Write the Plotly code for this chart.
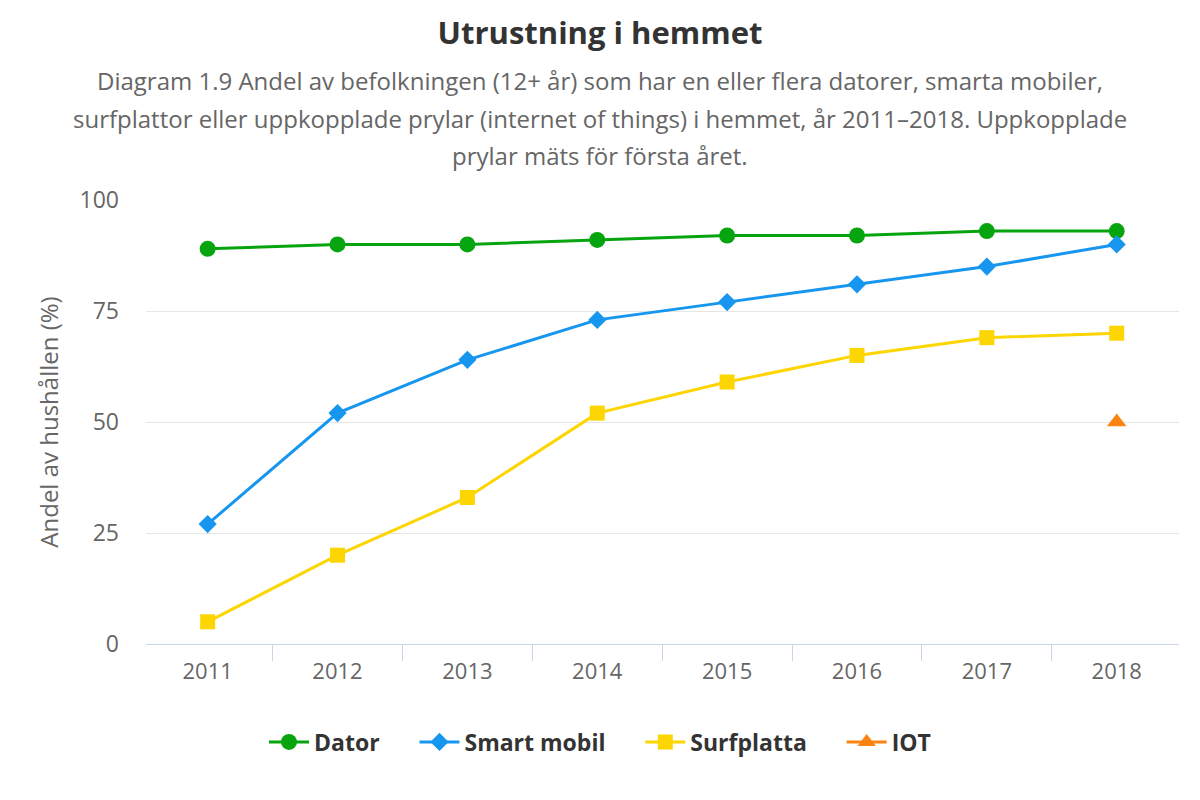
import plotly.graph_objects as go

# Data
years = ["2011", "2012", "2013", "2014", "2015", "2016", "2017", "2018"]
dator = [89, 90, 90, 91, 92, 92, 93, 93]
smart_mobil = [27, 52, 64, 73, 77, 81, 85, 90]
surfplatta = [5, 20, 33, 52, 59, 65, 69, 70]
iot_years = ["2018"]
iot = [50]

title = "Utrustning i hemmet"
subtitle_lines = [
    "Diagram 1.9 Andel av befolkningen (12+ år) som har en eller flera datorer, smarta mobiler,",
    "surfplattor eller uppkopplade prylar (internet of things) i hemmet, år 2011–2018. Uppkopplade",
    "prylar mäts för första året.",
]
y_title = "Andel av hushållen (%)"

# page has an 8px body margin, so the figure is a bit smaller than the window
PAD = 8
W, H = 1200 - 2 * PAD, 800 - 2 * PAD
ML, MR, MT, MB = 146 - PAD, 13, 200 - PAD, 148
plot_w = W - ML - MR
plot_h = H - MT - MB

FONT = "Open Sans"
LEGEND_GAP = "\u00a0" * 5  # extra room between legend entries

fig = go.Figure()

series = [
    ("Dator", years, dator, "#06a50f", "circle", 16),
    ("Smart mobil", years, smart_mobil, "#1796ef", "diamond", 14),
    ("Surfplatta", years, surfplatta, "#fdd500", "square", 15),
    ("IOT", iot_years, iot, "#fb8311", "triangle-up", 17),
]
for i, (name, xs, ys, color, symbol, size) in enumerate(series):
    label = name if i == len(series) - 1 else name + LEGEND_GAP
    fig.add_trace(go.Scatter(
        x=xs, y=ys, name=label, mode="lines+markers",
        line=dict(color=color, width=3),
        marker=dict(color=color, symbol=symbol, size=size, line=dict(width=0)),
        hovertemplate=name + ": %{y}<extra></extra>",
    ))


def py(page_y):
    # page pixel y -> paper coordinate
    return (H - MB - (page_y - PAD)) / plot_h


# Subtitle as separate lines to match the spacing
for i, line in enumerate(subtitle_lines):
    fig.add_annotation(
        text=line, showarrow=False,
        xref="paper", yref="paper",
        x=(600 - PAD - ML) / plot_w,
        y=py(80 + 38 * i),
        xanchor="center", yanchor="middle",
        font=dict(family=FONT, size=24, color="#666666"),
    )

fig.update_layout(
    width=W, height=H,
    margin=dict(l=ML, r=MR, t=MT, b=MB),
    paper_bgcolor="white",
    plot_bgcolor="white",
    font=dict(family=FONT, color="#666666"),
    title=dict(
        text="<b>" + title + "</b>",
        x=0.5, xanchor="center",
        y=1 - (33 - PAD) / H, yanchor="middle",
        font=dict(family=FONT, size=31, color="#333333"),
    ),
    showlegend=True,
    legend=dict(
        orientation="h",
        x=(600 - PAD - ML) / plot_w, xanchor="center",
        y=py(742), yanchor="middle",
        font=dict(family=FONT, size=23, color="#333333", weight="bold"),
        itemwidth=40,
        tracegroupgap=0,
    ),
    xaxis=dict(
        type="category",
        showgrid=False,
        showline=True, linecolor="#ccd6eb", linewidth=1,
        ticks="outside", tickson="boundaries", ticklen=16, tickcolor="#ccd6eb",
        ticklabelstandoff=8,
        tickfont=dict(family=FONT, size=22, color="#666666"),
        zeroline=False,
    ),
    yaxis=dict(
        range=[0, 100], dtick=25,
        showgrid=True, gridcolor="#e6e6e6", gridwidth=1,
        zeroline=False, showline=False,
        ticks="", ticklabelstandoff=26,
        tickfont=dict(family=FONT, size=23, color="#666666"),
        title=dict(text=y_title, standoff=14,
                   font=dict(family=FONT, size=24, color="#666666")),
    ),
)

fig.write_html("out.html")
